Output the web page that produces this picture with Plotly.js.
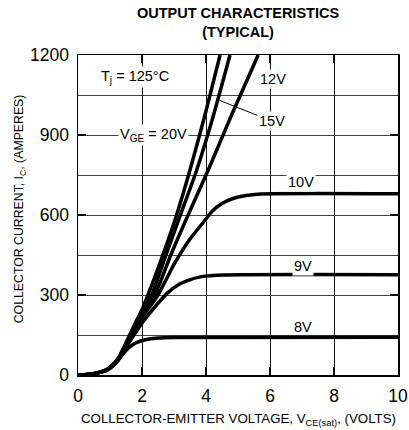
<!DOCTYPE html>
<html>
<head>
<meta charset="utf-8">
<script src="https://cdn.plot.ly/plotly-3.0.1.min.js"></script>
<style>html,body{margin:0;padding:0;background:#fff;}#chart{width:409px;height:430px;}</style>
</head>
<body>
<div id="chart"></div>
<script>
// Collector-emitter voltage (V) and collector current (A)
var v20 = [0, 0.3, 0.6, 0.85, 1.0, 1.15, 1.3, 1.5, 1.75, 2.0, 2.15, 2.5, 3.0, 3.5, 4.0, 4.44];
var i20 = [0, 2, 8, 18, 30, 47, 72, 120, 185, 245, 289, 400, 570, 769, 990, 1200];

var v15 = [0, 0.3, 0.6, 0.85, 1.0, 1.15, 1.3, 1.5, 1.75, 2.0, 2.3, 2.75, 3.2, 3.71, 4.2, 4.75];
var i15 = [0, 2, 8, 17, 29, 45, 70, 115, 175, 235, 300, 450, 600, 769, 960, 1200];

var v12 = [0, 0.3, 0.6, 0.85, 1.0, 1.15, 1.3, 1.5, 1.75, 2.0, 2.4, 2.9, 3.3, 4.07, 4.8, 5.63];
var i12 = [0, 2, 8, 17, 28, 44, 68, 110, 165, 225, 300, 450, 562, 769, 975, 1200];

var v10 = [0, 0.3, 0.6, 0.85, 1.0, 1.15, 1.3, 1.5, 1.75, 2.0, 2.5, 3.0, 3.5, 3.9, 4.2, 4.5, 4.8, 5.2, 5.7, 10];
var i10 = [0, 2, 8, 16, 27, 43, 66, 108, 160, 215, 300, 415, 510, 570, 615, 643, 660, 672, 679, 680];

var v9 = [0, 0.3, 0.6, 0.85, 1.0, 1.15, 1.3, 1.5, 1.75, 2.0, 2.4, 2.8, 3.1, 3.4, 3.86, 4.6, 10];
var i9 = [0, 2, 7, 15, 26, 42, 64, 105, 150, 195, 255, 308, 336, 353, 369, 375, 376];

var v8 = [0, 0.3, 0.6, 0.85, 1.0, 1.15, 1.3, 1.5, 1.65, 1.8, 2.1, 2.5, 3.0, 10];
var i8 = [0, 2, 7, 15, 25, 40, 62, 92, 108, 120, 132, 139, 141, 142];

var series = [
  {name: '20V', v: v20, i: i20},
  {name: '15V', v: v15, i: i15},
  {name: '12V', v: v12, i: i12},
  {name: '10V', v: v10, i: i10},
  {name: '9V',  v: v9,  i: i9},
  {name: '8V',  v: v8,  i: i8}
];

var xTicks = [0, 2, 4, 6, 8, 10];
var yTicks = [0, 300, 600, 900, 1200];

var FONT = 'Liberation Sans, Arial, Helvetica, sans-serif';

var traces = series.map(function (s) {
  return {
    x: s.v, y: s.i, name: s.name, type: 'scatter', mode: 'lines',
    line: {color: '#000', width: 3.5, shape: 'spline', smoothing: 0.6},
    hoverinfo: 'skip', cliponaxis: true
  };
});

var lbl = {size: 14.5, color: '#000', family: FONT};

var layout = {
  width: 409, height: 430,
  margin: {l: 78, r: 11, t: 55, b: 55},
  paper_bgcolor: '#fff', plot_bgcolor: '#fff',
  showlegend: false,
  font: {family: FONT, color: '#000'},
  title: {
    text: '<b>OUTPUT CHARACTERISTICS</b><br><b>(TYPICAL)</b>',
    font: {size: 14.5, family: FONT, color: '#000'},
    x: 0.5, xref: 'paper', xanchor: 'center',
    y: 0.958, yref: 'container', yanchor: 'top'
  },
  xaxis: {
    range: [0, 10], tickvals: xTicks, ticktext: xTicks.map(String),
    ticks: 'inside', ticklen: 8, tickwidth: 2, tickcolor: '#000',
    showline: true, linecolor: '#000', linewidth: 1.5, mirror: 'ticks',
    showgrid: true, gridcolor: '#111', gridwidth: 1,
    zeroline: false, fixedrange: true, ticklabelstandoff: 4,
    tickfont: {size: 17.5, family: FONT, color: '#000'}
  },
  yaxis: {
    range: [0, 1200], tickvals: yTicks, ticktext: yTicks.map(String),
    ticks: 'inside', ticklen: 8, tickwidth: 2, tickcolor: '#000',
    showline: true, linecolor: '#000', linewidth: 1.5, mirror: 'ticks',
    showgrid: true, gridcolor: '#444', gridwidth: 1,
    minor: {dtick: 150, showgrid: true, gridcolor: '#444', gridwidth: 1},
    zeroline: false, fixedrange: true, ticklabelstandoff: 4,
    tickfont: {size: 17.5, family: FONT, color: '#000'}
  },
  annotations: [
    {text: 'COLLECTOR-EMITTER VOLTAGE, V<sub>CE(sat)</sub>, (VOLTS)', xref: 'paper', yref: 'paper',
     x: 0.5, y: -0.138, xanchor: 'center', yanchor: 'middle', showarrow: false,
     font: {size: 13.3, family: FONT, color: '#000'}},
    {text: 'COLLECTOR CURRENT, I<sub>C</sub>, (AMPERES)', xref: 'paper', yref: 'paper',
     x: -0.18, y: 0.519, xanchor: 'center', yanchor: 'middle', textangle: -90, showarrow: false,
     font: {size: 12.3, family: FONT, color: '#000'}},
    {text: 'T<sub>j</sub> = 125°C', x: 1.78, y: 1118, xref: 'x', yref: 'y', showarrow: false,
     bgcolor: '#fff', font: lbl},
    {text: 'V<sub>GE</sub> = 20V', x: 2.35, y: 900, xref: 'x', yref: 'y', showarrow: false,
     bgcolor: '#fff', font: lbl},
    {text: '12V', x: 6.09, y: 1110, xref: 'x', yref: 'y', showarrow: false, bgcolor: '#fff', font: lbl},
    {text: '15V', x: 4.42, y: 1030, ax: 6.06, ay: 952, xref: 'x', yref: 'y', axref: 'x', ayref: 'y',
     showarrow: true, arrowhead: 0, arrowwidth: 1, arrowcolor: '#000', standoff: 0,
     bgcolor: '#fff', font: lbl},
    {text: '10V', x: 6.97, y: 723, xref: 'x', yref: 'y', showarrow: false, bgcolor: '#fff', font: lbl},
    {text: '9V', x: 7.03, y: 409, xref: 'x', yref: 'y', showarrow: false, bgcolor: '#fff', font: lbl},
    {text: '8V', x: 7.03, y: 180, xref: 'x', yref: 'y', showarrow: false, font: lbl}
  ]
};

Plotly.newPlot('chart', traces, layout, {staticPlot: true, displayModeBar: false});
</script>
</body>
</html>
